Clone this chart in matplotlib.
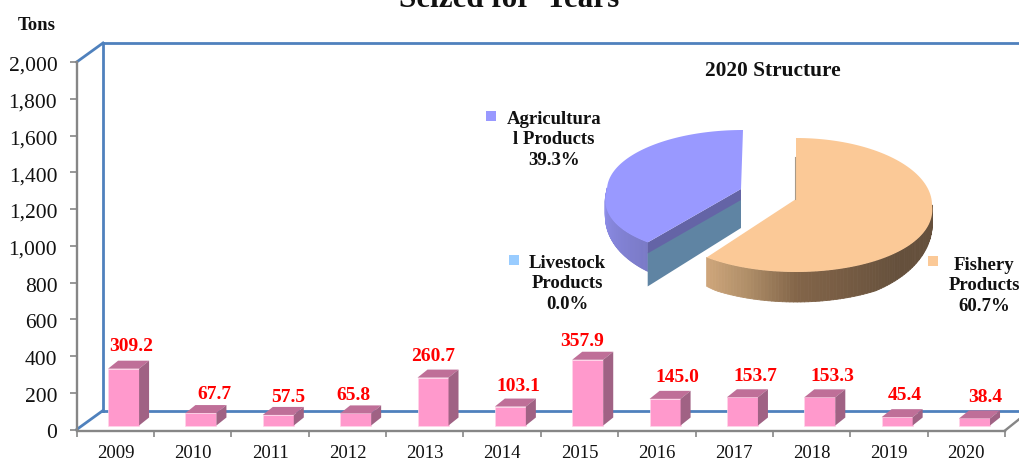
import numpy as np
import matplotlib
matplotlib.use("Agg")
import matplotlib.pyplot as plt
from matplotlib.patches import Polygon, Rectangle
from matplotlib.collections import PolyCollection
from matplotlib.colors import to_rgb
from matplotlib.transforms import ScaledTranslation

plt.rcParams['font.family'] = ['Liberation Serif', 'DejaVu Serif']

# ---- data ----
years = ['2009', '2010', '2011', '2012', '2013', '2014', '2015', '2016', '2017', '2018', '2019', '2020']
seized = [309.2, 67.7, 57.5, 65.8, 260.7, 103.1, 357.9, 145.0, 153.7, 153.3, 45.4, 38.4]
pie_names = ['Agricultura\nl Products', 'Livestock\nProducts', 'Fishery\nProducts']
shares = [39.3, 0.0, 60.7]

# ---- layout (pixels) ----
W, H = 1020, 460
LEFT, RIGHT, Y0, Y2000 = 76.7, 1005.0, 430.5, 63.0
STEP = (RIGHT - LEFT) / 12
PX_PER_UNIT = (Y0 - Y2000) / 2000

fig = plt.figure(figsize=(W / 100, H / 100), dpi=100, facecolor='white')
ax = fig.add_axes([LEFT / W, 1 - Y0 / H, (RIGHT - LEFT) / W, (Y0 - Y2000) / H])
ax.set_xlim(0, 12)
ax.set_ylim(0, 2000)
ax.patch.set_alpha(0)
px_x = lambda p: p / STEP            # pixel length -> x data
px_y = lambda p: p / PX_PER_UNIT     # pixel length -> y data

GRAY = '#868686'
BLUE = '#4f81bd'
for s in ('top', 'right'):
    ax.spines[s].set_visible(False)
for s in ('left', 'bottom'):
    ax.spines[s].set_color(GRAY)
    ax.spines[s].set_linewidth(1.7)
ax.spines['bottom'].set_position(('outward', 1))
ax.set_xticks(np.arange(0, 13))
ax.set_xticklabels([])
ax.set_xticks(np.arange(12) + 0.5, minor=True)
ax.set_xticklabels(years, minor=True, fontsize=13.5, color='#111111')
ax.tick_params(axis='x', which='major', length=4, width=1.2, color=GRAY)
ax.tick_params(axis='x', which='minor', length=0, pad=9.2)
ax.set_yticks(np.arange(0, 2001, 200))
ax.set_yticklabels([f'{v:,}' for v in range(0, 2001, 200)], fontsize=15.5, color='#111111')
ax.tick_params(axis='y', length=5, width=1.2, color=GRAY, pad=9)
nudge = ScaledTranslation(0, -1.0 / 100, fig.dpi_scale_trans)
for lab in ax.get_yticklabels():
    lab.set_transform(lab.get_transform() + nudge)

# 3-D walls
wx, wy = px_x(26.3), px_y(19.0)
wall_kw = dict(color=BLUE, lw=2.0, clip_on=False, zorder=1)
ax.plot([0, wx], [2000, 2000 + wy], **wall_kw)
ax.plot([0, wx], [0, wy], **wall_kw)
ax.plot([wx, wx], [wy, 2000 + wy], **wall_kw)
ax.plot([wx, 12.3], [2000 + wy, 2000 + wy], **wall_kw)
ax.plot([wx, 12.3], [wy, wy], **wall_kw)
ax.plot([12, 12 + px_x(15)], [-px_y(1), px_y(11)], color=GRAY, lw=1.7, clip_on=False, zorder=1)

# 3-D bars
bar_w = px_x(31)
bar_off = px_x(8.2)
floor = px_y(4.0)
dx, dy = px_x(10), px_y(8)
centers = np.arange(12) + 0.5 + bar_off
ax.bar(centers, seized, width=bar_w, bottom=floor, color='#ff99cc', edgecolor='#ffd6ea',
       linewidth=0.5, zorder=3, clip_on=False)
for c, v in zip(centers, seized):
    l, r, t, b = c - bar_w / 2, c + bar_w / 2, floor + v, floor
    ax.add_patch(Polygon([(l, t), (r, t), (r + dx, t + dy), (l + dx, t + dy)],
                         fc='#bf6f98', ec='none', zorder=3, clip_on=False))
    ax.add_patch(Polygon([(r, t), (r + dx, t + dy), (r + dx, b + dy), (r, b)],
                         fc='#a06284', ec='none', zorder=3, clip_on=False))

# value labels
label_dx = [7.5, 14, 9.5, -2, 0, 8, -6, 12, 13, 12.6, 8, 11]
label_gap = [23, 20, 18, 19, 22, 21, 19, 22, 22, 22, 23, 22]
for c, v, ox, g in zip(centers, seized, label_dx, label_gap):
    ax.annotate(f'{v:.1f}', (c, floor + v), xytext=(ox * 0.72, g * 0.72), textcoords='offset points',
                ha='center', va='center', color='#ff0000', fontsize=14, fontweight='bold', zorder=6,
                annotation_clip=False)

# ---- overlay in pixel coordinates for the pie, the title and free text ----
ov = fig.add_axes([0, 0, 1, 1])
ov.set_xlim(0, W)
ov.set_ylim(H, 0)
ov.axis('off')
ov.patch.set_alpha(0)


def rim(cx, cy, t, b_top, k, a=136.0, b_bot=67.0):
    """Point of the tilted pie's rim at clockwise angle t (degrees from 12 o'clock)."""
    r = np.radians(t)
    c = np.cos(r)
    return (cx + a * np.sin(r) * (1 - k * np.minimum(c, 0)),
            cy - np.where(c > 0, b_top, b_bot) * c)


def depth(t):
    return 12 + 18 * np.minimum(1, 1.2 * np.abs(np.cos(np.radians(t))))


def side(cx, cy, t0, t1, stops, b_top, k):
    ts = np.linspace(t0, t1, 90)
    xs, ys = rim(cx, cy, ts, b_top, k)
    ds = depth(ts)
    st, cols = zip(*stops)
    cols = np.array([to_rgb(c) for c in cols])
    mid = (ts[:-1] + ts[1:]) / 2
    fc = np.column_stack([np.interp(mid, st, cols[:, i]) for i in range(3)])
    polys = [[(xs[i], ys[i]), (xs[i + 1], ys[i + 1]), (xs[i + 1], ys[i + 1] + ds[i + 1]), (xs[i], ys[i] + ds[i])]
             for i in range(len(mid))]
    ov.add_collection(PolyCollection(polys, facecolors=fc, edgecolors=fc, linewidths=0.6, zorder=4))


def face(cx, cy, apex, t0, t1, color, b_top, k):
    ts = np.linspace(t0, t1, 120)
    xs, ys = rim(cx, cy, ts, b_top, k)
    ov.add_patch(Polygon([apex] + list(zip(xs, ys)), fc=color, ec='none', zorder=5))


split = 360 * shares[2] / sum(shares)        # fishery runs clockwise from 12 o'clock

# Fishery slice
FX, FY = 796.0, 206.0
side(FX, FY, 90, split, [(90, '#65503c'), (135, '#65503c'), (180, '#836549'), (200, '#b08f69'), (split, '#cfa67b')], 67.0, 0.07)
face(FX, FY, (796, 200), 0, split, '#fbc997', 67.0, 0.07)
ov.plot([795.5, 795.5], [158, 200], color='#a89a88', lw=0.8, zorder=6)

# Agricultural slice (exploded) and the empty livestock slice behind its cut face
AX, AY = 743.0, 191.0
apex = (741, 190)
tipx, tipy = rim(AX, AY, split, 60.0, 0.16)
side(AX, AY, split, 272, [(split, '#7a7ac6'), (272, '#9292f2')], 60.0, 0.16)
ov.add_patch(Polygon([(tipx, tipy + 10), (apex[0], apex[1] + 10), (apex[0], apex[1] + 39), (tipx, tipy + 44)],
                     fc='#5f84a3', ec='none', zorder=4.5))
ov.add_patch(Polygon([(tipx, tipy), apex, (apex[0], apex[1] + 11), (tipx, tipy + 11)],
                     fc='#6464a6', ec='none', zorder=4.6))
face(AX, AY, apex, split, 360, '#9999ff', 60.0, 0.16)

# Pie labels with their colour keys
pie_labels = [f'{n}\n{s:.1f}%' for n, s in zip(pie_names, shares)]
key_cols = ['#9999ff', '#99ccff', '#fbc997']
label_pos = [(553.7, 140), (567.5, 284), (984, 286)]
key_pos = [(486, 112), (509, 256), (928, 257)]
for txt, (x, y), (kx, ky), col in zip(pie_labels, label_pos, key_pos, key_cols):
    ov.text(x, y, txt, ha='center', va='center', fontsize=13.5, fontweight='bold', linespacing=1.3,
            color='#111111', zorder=7)
    ov.add_patch(Rectangle((kx, ky), 10, 10, fc=col, ec='none', zorder=7))

ov.text(772.5, 71.5, '2020 Structure', ha='center', va='center', fontsize=15.4, fontweight='bold', color='#111111')
ov.text(509, 7, 'Seized for  Years', ha='center', va='baseline', fontsize=22.4, fontweight='bold', color='#111111')
ov.text(36.5, 25.5, 'Tons', ha='center', va='center', fontsize=13.5, fontweight='bold', color='#111111')

fig.savefig('out.png', dpi=100)
